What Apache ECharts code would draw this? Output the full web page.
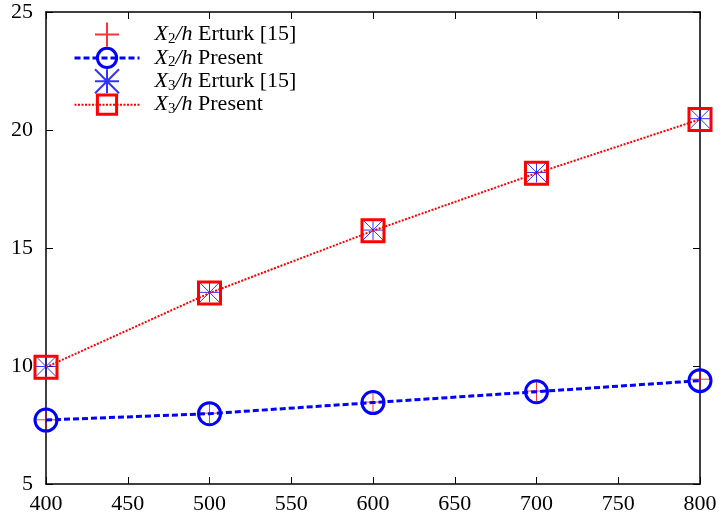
<!DOCTYPE html>
<html>
<head>
<meta charset="utf-8">
<script src="https://cdn.jsdelivr.net/npm/echarts@6/dist/echarts.min.js"></script>
<style>
  html, body { margin: 0; padding: 0; background: #fff; }
  #chart { width: 720px; height: 518px; }
</style>
</head>
<body>
<div id="chart"></div>
<script>
  const reynolds = [400, 500, 600, 700, 800];
  const x2Erturk = [7.72, 8.0, 8.47, 8.94, 9.44];
  const x2Present = [7.71, 7.98, 8.45, 8.91, 9.38];
  const x3Erturk = [9.98, 13.12, 15.76, 18.2, 20.48];
  const x3Present = [9.95, 13.09, 15.73, 18.17, 20.45];
  const seriesNames = ['x2e', 'x2p', 'x3e', 'x3p'];
  const seriesLabels = [
    '{i|X}{s|2}{i|/h} Erturk [15]',
    '{i|X}{s|2}{i|/h} Present',
    '{i|X}{s|3}{i|/h} Erturk [15]',
    '{i|X}{s|3}{i|/h} Present'
  ];

  const FONT = '"Liberation Serif", "DejaVu Serif", serif';
  const RED = '#ff0000';
  const BLUE = '#0000ff';
  const plusPath = 'path://M0,-10L0,10M-10,0L10,0';
  const starPath = 'path://M0,-10L0,10M-10,0L10,0M-10,-10L10,10M-10,10L10,-10';

  const pairs = arr => reynolds.map((r, i) => [r, arr[i]]);

  const axisBase = {
    type: 'value',
    axisLine: { show: true, onZero: false, lineStyle: { color: '#000', width: 1.5 } },
    axisTick: { show: true, inside: true, length: 7, lineStyle: { color: '#000', width: 1 } },
    splitLine: { show: false },
    axisLabel: { color: '#000', fontFamily: FONT, fontSize: 22 }
  };

  const option = {
    animation: false,
    backgroundColor: '#fff',
    grid: { left: 46, right: 20, top: 12, bottom: 34, containLabel: false },
    xAxis: [
      Object.assign({}, axisBase, { position: 'bottom', min: 400, max: 800, interval: 50,
        axisLabel: Object.assign({}, axisBase.axisLabel, { margin: 9 }) }),
      Object.assign({}, axisBase, { position: 'top', min: 400, max: 800, interval: 50,
        axisLabel: { show: false } })
    ],
    yAxis: [
      Object.assign({}, axisBase, { position: 'left', min: 5, max: 25, interval: 5,
        axisLabel: Object.assign({}, axisBase.axisLabel, { margin: 13 }) }),
      Object.assign({}, axisBase, { position: 'right', min: 5, max: 25, interval: 5,
        axisLabel: { show: false } })
    ],
    legend: {
      orient: 'vertical',
      left: 73,
      top: 20,
      padding: 0,
      itemWidth: 65,
      itemHeight: 24,
      itemGap: -3.2,
      data: [
        { name: 'x2e' },
        { name: 'x2p', lineStyle: { color: BLUE, width: 3, type: [6, 3] },
          itemStyle: { color: 'none', borderColor: BLUE, borderWidth: 3 } },
        { name: 'x3e' },
        { name: 'x3p', lineStyle: { color: RED, width: 2, type: [2, 1.5] },
          itemStyle: { color: 'none', borderColor: RED, borderWidth: 3 } }
      ],
      formatter: name => seriesLabels[seriesNames.indexOf(name)],
      textStyle: {
        color: '#000',
        fontFamily: FONT,
        fontSize: 22,
        padding: [0, 0, 0, 10],
        rich: {
          i: { fontFamily: FONT, fontStyle: 'italic', fontSize: 22, lineHeight: 24, verticalAlign: 'middle' },
          s: { fontFamily: FONT, fontSize: 15, lineHeight: 15, verticalAlign: 'bottom', padding: [9, 0, 0, 0] }
        }
      }
    },
    series: [
      {
        name: 'x2e', type: 'scatter', data: pairs(x2Erturk),
        symbol: plusPath, symbolSize: 20,
        itemStyle: { color: 'none', borderColor: RED, borderWidth: 1 }
      },
      {
        name: 'x2p', type: 'line', data: pairs(x2Present),
        symbol: 'circle', symbolSize: 22, showAllSymbol: true,
        lineStyle: { color: BLUE, width: 3, type: [6, 3] },
        itemStyle: { color: 'none', borderColor: BLUE, borderWidth: 3 }
      },
      {
        name: 'x3e', type: 'scatter', data: pairs(x3Erturk),
        symbol: starPath, symbolSize: 20,
        itemStyle: { color: 'none', borderColor: BLUE, borderWidth: 1 }
      },
      {
        name: 'x3p', type: 'line', data: pairs(x3Present),
        symbol: 'rect', symbolSize: 22, showAllSymbol: true,
        lineStyle: { color: RED, width: 2, type: [2, 1.5] },
        itemStyle: { color: 'none', borderColor: RED, borderWidth: 3 }
      }
    ]
  };

  const chart = echarts.init(document.getElementById('chart'));
  chart.setOption(option);
</script>
</body>
</html>
